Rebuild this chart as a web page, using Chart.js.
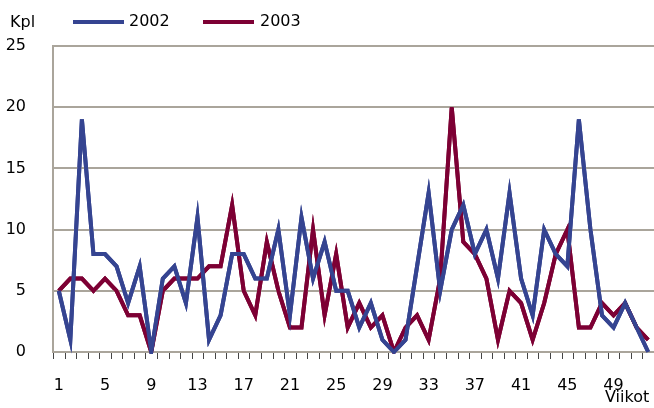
<!DOCTYPE html>
<html>
<head>
<meta charset="utf-8">
<script src="https://cdn.jsdelivr.net/npm/chart.js@4/dist/chart.umd.min.js"></script>
<style>
  html, body { margin: 0; padding: 0; background: #fff; }
  canvas { display: block; }
</style>
</head>
<body>
<canvas id="c" width="654" height="408"></canvas>
<script>
const weeks = [1,2,3,4,5,6,7,8,9,10,11,12,13,14,15,16,17,18,19,20,21,22,23,24,25,26,
               27,28,29,30,31,32,33,34,35,36,37,38,39,40,41,42,43,44,45,46,47,48,49,50,51,52];
const values2002 = [5,1,19,8,8,7,4,7,0,6, 7,4,11,1,3,8,8,6,6,10, 3,11,6,9,5,5,2,4,1,0,
                    1,7,13,5,10,12,8,10,6,13, 6,3,10,8,7,19,10,3,2,4, 2,0];
const values2003 = [5,6,6,5,6,5,3,3,0,5, 6,6,6,7,7,12,5,3,9,5, 2,2,10,3,8,2,4,2,3,0,
                    2,3,1,6,20,9,8,6,1,5, 4,1,4,8,10,2,2,4,3,4, 2,1];
const yMax = 25;
const yStep = 5;
const xLabelEvery = 4;
const yTitle = 'Kpl';
const xTitle = 'Viikot';

const gridCol = '#aaa59b';
const font = { family: 'DejaVu Sans', size: 16 };

// Grid lines and tick marks from the chart's own scales, then the series drawn again on top
const gridPlugin = {
  id: 'gridPlugin',
  afterDraw(chart) {
    const { ctx, chartArea: a, scales: { x, y } } = chart;
    ctx.save();
    ctx.strokeStyle = gridCol;
    ctx.lineWidth = 2;
    y.ticks.forEach(t => {
      const py = Math.round(y.getPixelForValue(t.value));
      ctx.beginPath();
      ctx.moveTo(a.left - 1, py);
      ctx.lineTo(a.right, py);
      ctx.stroke();
    });
    const step = x.getPixelForValue(1) - x.getPixelForValue(0);
    ctx.strokeStyle = '#444';
    ctx.lineWidth = 1;
    for (let i = 0; i <= weeks.length; i++) {
      const px = Math.round(x.getPixelForValue(i) - step / 2) + 0.5;
      ctx.beginPath();
      ctx.moveTo(px, a.bottom + 1);
      ctx.lineTo(px, a.bottom + 7);
      ctx.stroke();
    }
    ctx.restore();
    ctx.save();
    ctx.beginPath();
    ctx.rect(a.left, a.top - 4, a.right - a.left, a.bottom - a.top + 6);
    ctx.clip();
    for (let i = chart.data.datasets.length - 1; i >= 0; i--) {
      chart.getDatasetMeta(i).controller.draw();
    }
    ctx.restore();
  }
};

// Legend and axis titles drawn on the canvas
const textPlugin = {
  id: 'textPlugin',
  afterDraw(chart) {
    const ctx = chart.ctx;
    ctx.save();
    ctx.font = '16px "DejaVu Sans"';
    ctx.fillStyle = '#000';
    ctx.textBaseline = 'middle';
    ctx.textAlign = 'left';
    ctx.fillText(yTitle, 10, 23);
    ctx.fillText(xTitle, 605, 398);
    const items = [{ x: 73, tx: 129 }, { x: 203, tx: 260 }];
    chart.data.datasets.forEach((ds, i) => {
      const it = items[i];
      ctx.fillStyle = ds.borderColor;
      ctx.fillRect(it.x, 20, 51, 4);
      ctx.fillStyle = '#000';
      ctx.fillText(ds.label, it.tx, 22);
    });
    ctx.restore();
  }
};

new Chart(document.getElementById('c'), {
  type: 'line',
  data: {
    labels: weeks.map(String),
    datasets: [
      { label: '2002', data: values2002, borderColor: '#354491', borderWidth: 4, pointRadius: 0 },
      { label: '2003', data: values2003, borderColor: '#7d0034', borderWidth: 4, pointRadius: 0 }
    ]
  },
  plugins: [gridPlugin, textPlugin],
  options: {
    responsive: false, animation: false, events: [],
    layout: { padding: { top: 46, right: 0, bottom: 0, left: 0 } },
    plugins: { legend: { display: false }, tooltip: { enabled: false } },
    scales: {
      x: {
        type: 'category', offset: true,
        grid: { display: false, offset: true },
        border: { display: true, color: gridCol, width: 2 },
        ticks: { autoSkip: false, maxRotation: 0, padding: 16, color: '#000', font: font,
          callback: (v, i) => (i % xLabelEvery === 0 ? weeks[i] : '') },
        afterFit: s => { s.height = 56; s.paddingRight = 0; s.paddingLeft = 0; }
      },
      y: {
        min: 0, max: yMax,
        grid: { display: false },
        border: { display: true, color: gridCol, width: 2 },
        ticks: { color: '#000', font: font, padding: 19, stepSize: yStep },
        afterFit: s => { s.width = 53; }
      }
    }
  }
});
</script>
</body>
</html>
